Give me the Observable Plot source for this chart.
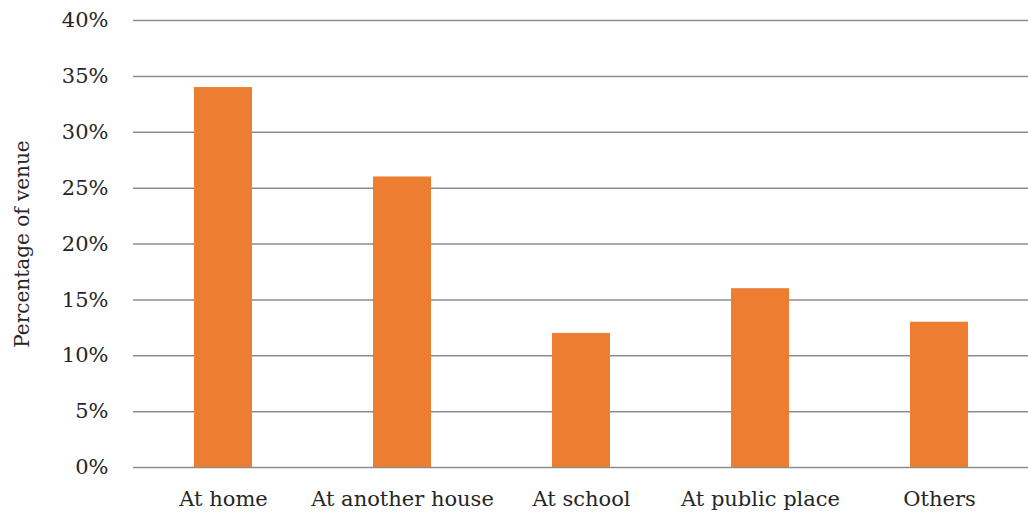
<!DOCTYPE html>
<html>
<head>
<meta charset="utf-8">
<script src="https://cdn.jsdelivr.net/npm/d3@7"></script>
<script src="https://cdn.jsdelivr.net/npm/@observablehq/plot@0.6"></script>
<style>
  html, body { margin: 0; padding: 0; background: #fff; }
</style>
</head>
<body>
<div id="chart"></div>
<script>
const venues = ["At home", "At another house", "At school", "At public place", "Others"];
const shares = [34, 26, 12, 16, 13];
const yTicks = [0, 5, 10, 15, 20, 25, 30, 35, 40];

const data = venues.map((v, i) => ({venue: v, share: shares[i]}));

const chart = Plot.plot({
  width: 1028,
  height: 516,
  marginLeft: 133,
  marginRight: 0,
  marginTop: 20,
  marginBottom: 49,
  style: {fontFamily: "'DejaVu Serif', serif", fontSize: "19px", color: "#262626", background: "#fff"},
  x: {domain: venues, paddingInner: 0.676, paddingOuter: 0.338, label: null},
  y: {domain: [0, 40], label: null},
  marks: [
    Plot.ruleY(yTicks, {stroke: "#8c8c8c", strokeWidth: 1.5, strokeOpacity: 1}),
    Plot.barY(data, {x: "venue", y: "share", fill: "#ED7D31"}),
    Plot.axisY(yTicks, {tickSize: 0, tickPadding: 25, tickFormat: d => d + "%", fontSize: 21, label: null}),
    Plot.axisX({tickSize: 0, tickPadding: 24, fontSize: 21, label: null}),
    Plot.text(["Percentage of venue"], {frameAnchor: "left", textAnchor: "middle", dx: -111, rotate: -90, fontSize: 20, fill: "#262626"})
  ]
});
document.getElementById("chart").appendChild(chart);
</script>
</body>
</html>
